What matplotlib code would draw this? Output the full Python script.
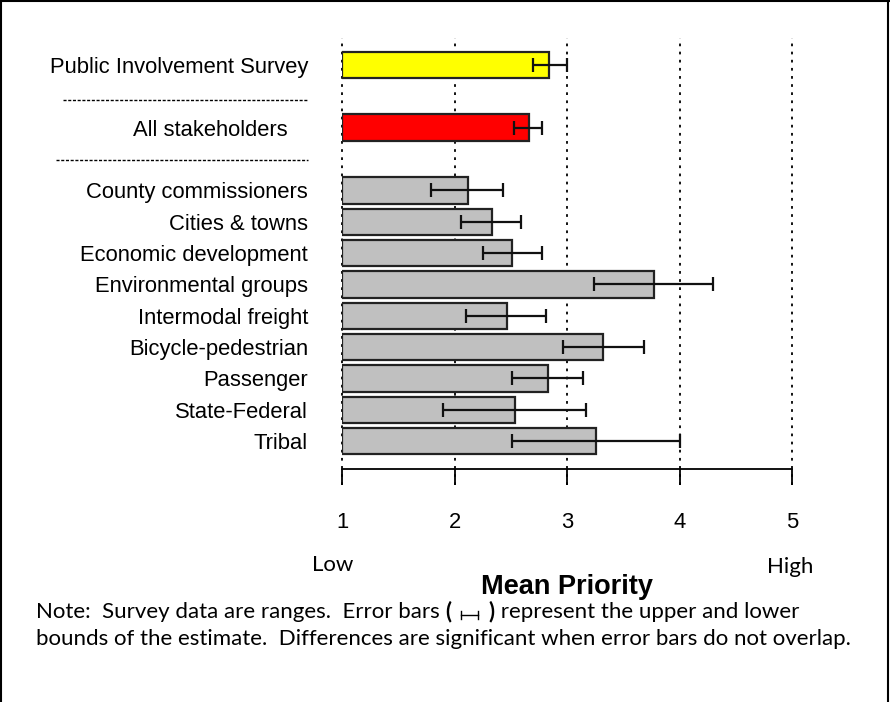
import matplotlib
matplotlib.use("Agg")
import matplotlib.pyplot as plt
import matplotlib.transforms as mtransforms
from matplotlib.lines import Line2D

# data
groups = [
    "Public Involvement Survey",
    "All stakeholders",
    "County commissioners",
    "Cities & towns",
    "Economic development",
    "Environmental groups",
    "Intermodal freight",
    "Bicycle-pedestrian",
    "Passenger",
    "State-Federal",
    "Tribal",
]
means = [2.84, 2.66, 2.12, 2.33, 2.51, 3.77, 2.47, 3.32, 2.83, 2.54, 3.26]
lower = [2.70, 2.53, 1.79, 2.06, 2.25, 3.24, 2.10, 2.96, 2.51, 1.90, 2.51]
upper = [3.00, 2.78, 2.43, 2.59, 2.78, 4.30, 2.81, 3.68, 3.14, 3.17, 4.00]
rows = [0, 2, 4, 5, 6, 7, 8, 9, 10, 11, 12]
colors = ["#ffff00", "#ff0000"] + ["#c0c0c0"] * 9
xticks = [1, 2, 3, 4, 5]

W, H = 890, 702
fig = plt.figure(figsize=(W / 100, H / 100), dpi=100)
ax = fig.add_axes([342 / W, (H - 485) / H, 450 / W, 447 / H])

lab_font = "Liberation Sans"
note_font = "Lato"
lab_size = 15.8

ax.set_xlim(1, 5)
ax.set_ylim(13.4, -0.86)

ax.grid(axis="x", color="black", linestyle=(0, (1.5, 3)), linewidth=1.3, zorder=0)
ax.set_axisbelow(True)

ax.barh(rows, [m - 1 for m in means], left=1, height=0.84, color=colors,
        edgecolor="#222222", linewidth=1.6, zorder=2)
xerr = [[m - lo for m, lo in zip(means, lower)], [hi - m for m, hi in zip(means, upper)]]
ax.errorbar(means, rows, xerr=xerr, fmt="none", ecolor="#111111",
            elinewidth=1.6, capsize=4.8, capthick=1.6, zorder=3)

for s in ["top", "right", "left"]:
    ax.spines[s].set_visible(False)
ax.spines["bottom"].set_position(("data", 12.9))
ax.spines["bottom"].set_linewidth(1.3)
ax.set_xticks(xticks)
ax.set_xticklabels([str(t) for t in xticks], fontsize=lab_size, family=lab_font)
ax.tick_params(axis="x", length=11.5, width=1.3, pad=19, direction="out")
for gl in ax.get_xgridlines():
    gl.set_clip_on(False)

ax.set_yticks(rows)
ax.set_yticklabels(groups, fontsize=lab_size, family=lab_font)
ax.tick_params(axis="y", length=0, pad=24.5)
lbl = ax.get_yticklabels()[1]
lbl.set_transform(lbl.get_transform() + mtransforms.ScaledTranslation(-15 / 72, 0, fig.dpi_scale_trans))

# dashed separators in the label column
sep = ax.get_yaxis_transform()
for x0, yy in [(-0.62, 1.12), (-0.635, 3.03)]:
    ax.plot([x0, -0.076], [yy, yy], transform=sep, color="black",
            linestyle=(0, (2.2, 1.2)), linewidth=1.0, clip_on=False)

fig.text(333 / W, 1 - 565 / H, "Low", ha="center", va="center", fontsize=16, family=note_font)
fig.text(790 / W, 1 - 567 / H, "High", ha="center", va="center", fontsize=16, family=note_font)
fig.text(567 / W, 1 - 587 / H, "Mean Priority", ha="center", va="center",
         fontsize=19.5, fontweight="bold", family=lab_font)

# note under the chart, built piece by piece so the error-bar sign can sit in it
renderer = fig.canvas.get_renderer()
note_size = 16
y1 = 1 - 612 / H
x = 36
parts = [("Note:  Survey data are ranges.  Error bars ", "normal"), ("(", "bold")]
for txt, wt in parts:
    t = fig.text(x / W, y1, txt, va="center", fontsize=note_size, family=note_font, fontweight=wt)
    x += t.get_window_extent(renderer).width
x += 9
sy = 615
fig.add_artist(Line2D([x / W, (x + 17) / W], [1 - sy / H, 1 - sy / H], color="black", lw=1.0))
for xx in [x, x + 17]:
    fig.add_artist(Line2D([xx / W, xx / W], [1 - (sy - 4) / H, 1 - (sy + 4) / H], color="black", lw=1.0))
x += 17 + 11
parts = [(")", "bold"), (" represent the upper and lower", "normal")]
for txt, wt in parts:
    t = fig.text(x / W, y1, txt, va="center", fontsize=note_size, family=note_font, fontweight=wt)
    x += t.get_window_extent(renderer).width
fig.text(36 / W, 1 - 639 / H,
         "bounds of the estimate.  Differences are significant when error bars do not overlap.",
         va="center", fontsize=note_size, family=note_font)

# page frame
for xs, ys in [([0.001, 0.001], [0, 1]), ([0, 1], [0.999, 0.999]), ([0.998, 0.998], [0, 1])]:
    fig.add_artist(Line2D(xs, ys, color="black", lw=1.5))

fig.savefig("out.png", dpi=100)
